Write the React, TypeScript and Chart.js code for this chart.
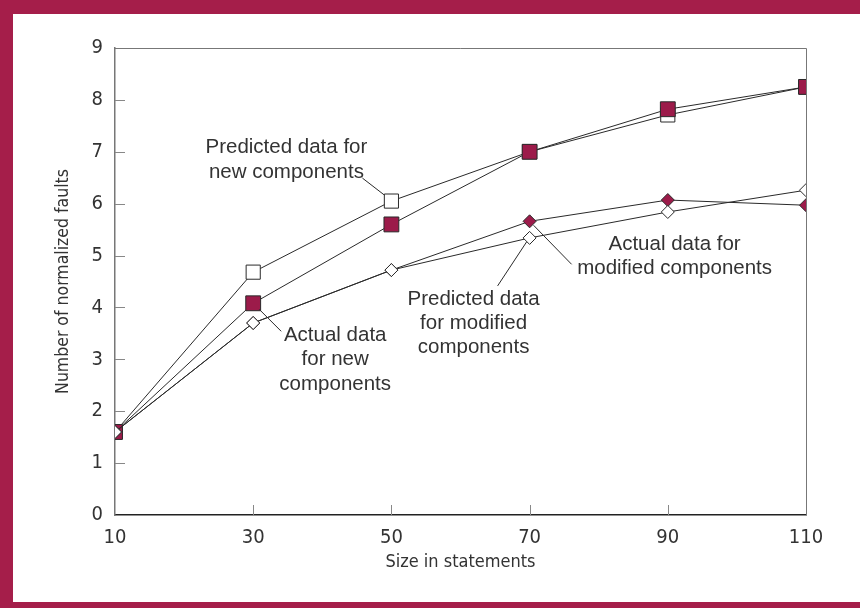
import React, { useEffect, useRef } from 'react';
import { Chart, registerables } from 'chart.js';

Chart.register(...registerables);

const sizes = [10, 30, 50, 70, 90, 110];
const predictedNew = [1.6, 4.68, 6.05, 7.0, 7.71, 8.25];
const actualNew = [1.6, 4.08, 5.6, 7.0, 7.82, 8.25];
const actualModified = [1.6, 3.7, 4.72, 5.66, 6.07, 5.97];
const predictedModified = [1.6, 3.7, 4.72, 5.34, 5.84, 6.26];
const xTickValues = [10, 30, 50, 70, 90, 110];
const yTickValues = [0, 1, 2, 3, 4, 5, 6, 7, 8, 9];

const xTitle = 'Size in statements';
const yTitle = 'Number of normalized faults';

const CRIMSON = '#A51E4A';
const MARKER = '#9C1B4A';
const INK = '#2a2a2a';
const NARROW = '"Liberation Sans Narrow", "DejaVu Sans Condensed", "Liberation Sans", sans-serif';

// Callouts: anchored to a data point of a dataset; offsets in pixels
const callouts = [
  { ds: 0, idx: 2, lines: ['Predicted data for', 'new components'], tx: -105, ty: [-54, -29], from: [-7, -6], to: [-29, -23] },
  { ds: 1, idx: 1, lines: ['Actual data', 'for new', 'components'], tx: 82, ty: [32, 56, 81], from: [6, 6], to: [28, 28] },
  { ds: 3, idx: 3, lines: ['Predicted data', 'for modified', 'components'], tx: -56, ty: [61, 85, 109], from: [-3, 4], to: [-32, 48] },
  { ds: 2, idx: 3, lines: ['Actual data for', 'modified components'], tx: 145, ty: [23, 47], from: [4, 4], to: [42, 43] },
];

const framePlugin = {
  id: 'frame',
  beforeDraw(chart: any) {
    const { ctx, width, height } = chart;
    ctx.save();
    ctx.fillStyle = '#ffffff';
    ctx.fillRect(0, 0, width, height);
    ctx.fillStyle = CRIMSON;
    ctx.fillRect(0, 0, width, 14);
    ctx.fillRect(0, 0, 13, height);
    ctx.fillRect(0, height - 6, width, 6);
    ctx.restore();
  },
  beforeDatasetsDraw(chart: any) {
    const { ctx, chartArea } = chart;
    const xs = chart.scales.x;
    const ys = chart.scales.y;
    ctx.save();
    ctx.lineWidth = 1;
    ctx.strokeStyle = '#777';
    ctx.beginPath();
    ctx.moveTo(chartArea.left, chartArea.top + 0.5);
    ctx.lineTo(chartArea.right + 0.5, chartArea.top + 0.5);
    ctx.lineTo(chartArea.right + 0.5, chartArea.bottom);
    ctx.stroke();
    ctx.strokeStyle = '#888';
    ctx.beginPath();
    yTickValues.forEach((v) => {
      if (v === 0 || v === 9) return;
      const y = Math.round(ys.getPixelForValue(v)) + 0.5;
      ctx.moveTo(chartArea.left, y);
      ctx.lineTo(chartArea.left + 10, y);
    });
    xTickValues.forEach((v) => {
      if (v === 10 || v === 110) return;
      const x = Math.round(xs.getPixelForValue(v)) + 0.5;
      ctx.moveTo(x, chartArea.bottom);
      ctx.lineTo(x, chartArea.bottom - 10);
    });
    ctx.stroke();
    ctx.restore();
  },
  afterDatasetsDraw(chart: any) {
    const { ctx } = chart;
    ctx.save();
    ctx.strokeStyle = INK;
    ctx.lineWidth = 1;
    ctx.fillStyle = '#333';
    ctx.font = '20.5px "Liberation Sans", Arial, sans-serif';
    ctx.textAlign = 'center';
    ctx.textBaseline = 'middle';
    callouts.forEach((c) => {
      const el = chart.getDatasetMeta(c.ds).data[c.idx];
      const px = el.x;
      const py = el.y;
      ctx.beginPath();
      ctx.moveTo(px + c.from[0], py + c.from[1]);
      ctx.lineTo(px + c.to[0], py + c.to[1]);
      ctx.stroke();
      c.lines.forEach((t, i) => {
        ctx.fillText(t, px + c.tx, py + c.ty[i]);
      });
    });
    ctx.restore();
  },
};

export default function App() {
  const ref = useRef<HTMLCanvasElement | null>(null);
  useEffect(() => {
    if (!ref.current) return;
    const mk = (data: number[]) => sizes.map((x, i) => ({ x, y: data[i] }));
    const tickFont = { family: NARROW, size: 20 };
    const xTitleFont = { family: NARROW, size: 18 };
    const yTitleFont = { family: NARROW, size: 17.5 };
    const chart = new Chart(ref.current, {
      type: 'scatter',
      data: {
        datasets: [
          {
            label: 'Predicted data for new components',
            data: mk(predictedNew),
            showLine: true,
            borderColor: INK,
            borderWidth: 1,
            pointStyle: 'rect',
            pointRadius: 10,
            pointBackgroundColor: '#ffffff',
            pointBorderColor: INK,
            pointBorderWidth: 1,
            order: 3,
          },
          {
            label: 'Actual data for new components',
            data: mk(actualNew),
            showLine: true,
            borderColor: INK,
            borderWidth: 1,
            pointStyle: 'rect',
            pointRadius: 10.5,
            pointBackgroundColor: MARKER,
            pointBorderColor: INK,
            pointBorderWidth: 1,
            order: 2,
          },
          {
            label: 'Actual data for modified components',
            data: mk(actualModified),
            showLine: true,
            borderColor: INK,
            borderWidth: 1,
            pointStyle: 'rectRot',
            pointRadius: 6.5,
            pointBackgroundColor: MARKER,
            pointBorderColor: INK,
            pointBorderWidth: 1,
            order: 1,
          },
          {
            label: 'Predicted data for modified components',
            data: mk(predictedModified),
            showLine: true,
            borderColor: INK,
            borderWidth: 1,
            pointStyle: 'rectRot',
            pointRadius: 6.5,
            pointBackgroundColor: '#ffffff',
            pointBorderColor: INK,
            pointBorderWidth: 1,
            order: 0,
          },
        ],
      },
      options: {
        responsive: false,
        animation: false,
        devicePixelRatio: 1,
        layout: { padding: { left: 0, top: 48, right: 54, bottom: 0 } },
        plugins: { legend: { display: false }, tooltip: { enabled: false } },
        scales: {
          x: {
            type: 'linear',
            min: 10,
            max: 110,
            afterBuildTicks: (s: any) => { s.ticks = xTickValues.map((v) => ({ value: v })); },
            afterFit: (s: any) => { s.height = 93; },
            grid: { display: false },
            border: { display: true, color: '#222', width: 1.5 },
            ticks: { font: tickFont, color: '#333', padding: 3, maxRotation: 0 },
            title: { display: true, text: xTitle, font: xTitleFont, color: '#333', padding: { bottom: 35 } },
          },
          y: {
            type: 'linear',
            min: 0,
            max: 9,
            afterBuildTicks: (s: any) => { s.ticks = yTickValues.map((v) => ({ value: v })); },
            afterFit: (s: any) => { s.width = 115; },
            grid: { display: false },
            border: { display: true, color: '#777', width: 1.5 },
            ticks: { font: tickFont, color: '#333', padding: 4 },
            title: { display: true, text: yTitle, font: yTitleFont, color: '#333', padding: { top: 53 } },
          },
        },
      },
      plugins: [framePlugin],
    } as any);
    return () => chart.destroy();
  }, []);
  return (
    <div style={{ position: 'absolute', left: 0, top: 0, width: 860, height: 608 }}>
      <canvas ref={ref} width={860} height={608} style={{ display: 'block', width: 860, height: 608 }} />
    </div>
  );
}
